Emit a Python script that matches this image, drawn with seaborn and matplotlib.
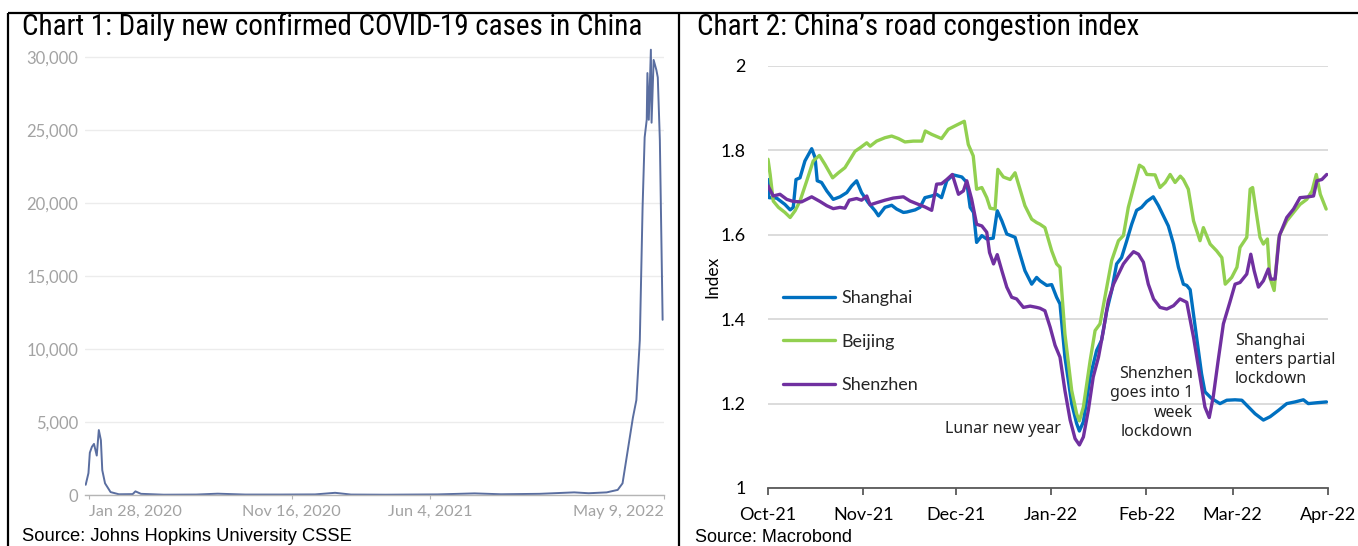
import numpy as np
import pandas as pd
import matplotlib
matplotlib.use("Agg")
import matplotlib.pyplot as plt
import matplotlib.dates as mdates
from matplotlib.lines import Line2D
from matplotlib.ticker import FuncFormatter
import seaborn as sns

# ---------------- Chart 1: daily new confirmed cases (7-day average) ----------------
covid_dates = [
    "2020-01-23", "2020-01-27", "2020-01-29", "2020-02-01", "2020-02-04", "2020-02-08",
    "2020-02-11", "2020-02-14", "2020-02-16", "2020-02-20", "2020-02-28", "2020-03-11",
    "2020-03-31", "2020-04-04", "2020-04-12", "2020-05-15", "2020-07-01", "2020-08-01",
    "2020-09-10", "2020-11-01", "2020-12-20", "2021-01-18", "2021-02-10", "2021-04-01",
    "2021-06-15", "2021-08-08", "2021-09-15", "2021-11-10", "2021-12-30", "2022-01-20",
    "2022-02-15", "2022-03-03", "2022-03-10", "2022-03-16", "2022-03-25", "2022-03-30",
    "2022-04-04", "2022-04-08", "2022-04-11", "2022-04-14", "2022-04-15", "2022-04-17",
    "2022-04-20", "2022-04-21", "2022-04-24", "2022-04-28", "2022-04-30", "2022-05-03",
    "2022-05-07",
]
covid_cases = [
    700, 1500, 2900, 3300, 3500, 2700,
    4450, 3750, 1700, 800, 200, 50,
    60, 250, 80, 20, 30, 90,
    30, 30, 40, 150, 30, 20,
    40, 110, 50, 80, 180, 120,
    180, 350, 800, 2600, 5300, 6500,
    10600, 19700, 24500, 25700, 28900, 25700,
    30500, 25500, 29800, 29100, 28600, 24300,
    12000,
]
covid_tick_dates = ["2020-01-28", "2020-11-16", "2021-06-04", "2022-05-09"]
covid_tick_labels = ["Jan 28, 2020", "Nov 16, 2020", "Jun 4, 2021", "May 9, 2022"]
covid_y_ticks = [0, 5000, 10000, 15000, 20000, 25000, 30000]

# ---------------- Chart 2: road congestion index ----------------
congestion_start = "2021-10-01"
cities = ["Shanghai", "Beijing", "Shenzhen"]
city_colors = ["#0070C0", "#92D050", "#7030A0"]

shanghai_days = [
    0, 0.3, 2.8, 5.5, 7.2, 8.2, 9.1, 10.4, 12, 14.2, 15.3, 16, 17.4, 19.1, 21.2, 23.4,
    25.6, 27.2, 28.8, 30.4, 32.6, 34.8, 35.9, 38, 40.2, 41.8, 44, 45.1, 47.8, 49.4, 51,
    53.2, 54.8, 56.4, 58.1, 60.2, 63, 64.6, 65.7, 66.8, 67.8, 69.5, 71.1, 73.2, 74.5, 76,
    77.6, 80.3, 81.9, 83.5, 85.7, 87.3, 88.4, 90.6, 92.2, 93.8, 94.9, 96.5, 98.7, 100.3,
    101.2, 102.5, 104.7, 106.8, 108.4, 110.1, 111.7, 113.3, 114.9, 116.6, 118.2, 119.8,
    121.4, 123.1, 125.2, 126.9, 128.5, 130.1, 131.8, 133.4, 135, 136.1, 137.2, 139.3,
    140.9, 142, 144.2, 146.9, 149.1, 151.8, 154, 155.6, 158.3, 161, 163.2, 165.9, 168.6,
    171.3, 174, 175.6, 178.3, 181.5,
]
shanghai_index = [
    1.731, 1.688, 1.687, 1.672, 1.659, 1.665, 1.731, 1.735, 1.775, 1.804, 1.783, 1.728,
    1.724, 1.704, 1.684, 1.690, 1.700, 1.716, 1.728, 1.700, 1.676, 1.657, 1.645, 1.665,
    1.670, 1.661, 1.653, 1.654, 1.659, 1.665, 1.688, 1.692, 1.696, 1.688, 1.728, 1.742,
    1.737, 1.724, 1.665, 1.653, 1.582, 1.598, 1.590, 1.592, 1.657, 1.633, 1.602, 1.594,
    1.554, 1.515, 1.483, 1.499, 1.491, 1.480, 1.482, 1.452, 1.436, 1.310, 1.200, 1.153,
    1.135, 1.157, 1.263, 1.326, 1.350, 1.420, 1.468, 1.531, 1.546, 1.586, 1.625, 1.658,
    1.665, 1.679, 1.690, 1.669, 1.645, 1.621, 1.578, 1.523, 1.483, 1.480, 1.470, 1.357,
    1.271, 1.228, 1.212, 1.200, 1.208, 1.209, 1.208, 1.196, 1.176, 1.161, 1.169, 1.184,
    1.200, 1.204, 1.209, 1.200, 1.202, 1.204,
]

beijing_days = [
    0, 0.7, 1.7, 3.4, 5.5, 7.2, 8.8, 10.4, 12.6, 14.7, 16.7, 18.5, 21, 22.9, 25, 26.7,
    28.3, 29.9, 32.1, 33.2, 35.3, 38, 40.2, 42.4, 44.5, 47.2, 50, 51.1, 53.2, 56.4, 58.6,
    61.3, 63.8, 65.1, 66.7, 67.8, 69.5, 71.1, 72.2, 73.8, 74.7, 76.5, 78.7, 80.3, 81.9,
    83.5, 85.7, 87.3, 88.4, 90, 92.2, 93.8, 94.9, 96.5, 98.7, 100.3, 101.2, 102.5, 104.7,
    106.3, 107.9, 110.1, 111.7, 113.9, 115.5, 117.1, 118.8, 120.7, 122, 123.1, 125.8,
    127.4, 129.1, 130.7, 132.3, 134, 135, 136.6, 138.3, 140.4, 141.5, 143.7, 145.8, 147.5,
    148.6, 150.7, 152.4, 153.4, 155.6, 156.7, 157.5, 158.6, 159.9, 161, 162.3, 163.1,
    164.5, 165.9, 166.4, 168.6, 170.8, 172.9, 175.1, 176.8, 178.2, 179.5, 181.4,
]
beijing_index = [
    1.779, 1.743, 1.680, 1.665, 1.653, 1.641, 1.657, 1.680, 1.728, 1.775, 1.788, 1.767,
    1.735, 1.747, 1.759, 1.779, 1.798, 1.806, 1.818, 1.810, 1.822, 1.830, 1.834, 1.828,
    1.820, 1.822, 1.822, 1.846, 1.838, 1.828, 1.850, 1.860, 1.869, 1.814, 1.787, 1.708,
    1.712, 1.688, 1.663, 1.661, 1.755, 1.737, 1.731, 1.747, 1.708, 1.669, 1.637, 1.629,
    1.625, 1.617, 1.562, 1.531, 1.523, 1.365, 1.231, 1.176, 1.159, 1.192, 1.302, 1.373,
    1.389, 1.476, 1.539, 1.586, 1.598, 1.665, 1.712, 1.765, 1.759, 1.743, 1.742, 1.712,
    1.724, 1.743, 1.724, 1.739, 1.731, 1.708, 1.633, 1.586, 1.617, 1.578, 1.562, 1.546,
    1.483, 1.499, 1.523, 1.570, 1.594, 1.708, 1.712, 1.657, 1.594, 1.578, 1.590, 1.499,
    1.468, 1.586, 1.602, 1.633, 1.653, 1.672, 1.684, 1.704, 1.743, 1.696, 1.661,
]

shenzhen_days = [
    0, 1.7, 3.9, 6.1, 8.2, 10.9, 14.2, 16.9, 19.1, 21.2, 23.4, 25, 26.4, 28.8, 30.4, 32.1,
    33.2, 35.3, 38, 40.7, 44, 46.2, 48.9, 51, 53.2, 54.8, 56.4, 58.1, 59.9, 61.9, 63.5,
    64.6, 66.2, 67.8, 69.5, 71.1, 72, 73.3, 74.5, 76, 77.6, 79.2, 80.8, 83, 85.2, 87.3,
    88.4, 90, 91.7, 93.3, 94.9, 96.5, 98.2, 99.8, 101.2, 102.5, 104.1, 105.7, 107.4, 109,
    110.6, 112.3, 113.9, 115.5, 117.1, 118.8, 120.4, 122, 123.6, 125.3, 127.4, 129.6,
    131.8, 133.9, 136.1, 138.3, 140.4, 142, 143.4, 144.7, 146.3, 148, 150.1, 151.8, 153.4,
    155.6, 156.9, 158, 159.4, 161, 162.6, 163.4, 164.8, 166.2, 168.6, 170.8, 172.9, 175.6,
    177.3, 178.4, 180, 181.6,
]
shenzhen_index = [
    1.716, 1.692, 1.696, 1.684, 1.679, 1.678, 1.690, 1.679, 1.669, 1.662, 1.665, 1.663,
    1.682, 1.686, 1.682, 1.692, 1.671, 1.676, 1.682, 1.687, 1.690, 1.680, 1.672, 1.666,
    1.658, 1.720, 1.721, 1.731, 1.743, 1.696, 1.704, 1.728, 1.684, 1.625, 1.621, 1.606,
    1.558, 1.531, 1.553, 1.515, 1.476, 1.452, 1.448, 1.428, 1.431, 1.428, 1.426, 1.420,
    1.381, 1.338, 1.310, 1.231, 1.161, 1.117, 1.102, 1.121, 1.184, 1.263, 1.310, 1.373,
    1.444, 1.483, 1.507, 1.531, 1.546, 1.560, 1.554, 1.535, 1.483, 1.448, 1.428, 1.424,
    1.432, 1.448, 1.440, 1.357, 1.263, 1.192, 1.167, 1.216, 1.302, 1.389, 1.440, 1.483,
    1.487, 1.507, 1.554, 1.515, 1.476, 1.491, 1.519, 1.495, 1.495, 1.598, 1.641, 1.661,
    1.688, 1.690, 1.692, 1.728, 1.731, 1.743,
]
congestion_y_ticks = [1.0, 1.2, 1.4, 1.6, 1.8, 2.0]

# ---------------- figure ----------------
W, H = 1358, 546
sns.set_theme(style="white")
plt.rcParams["font.family"] = ["Lato", "DejaVu Sans"]
fig = plt.figure(figsize=(W / 100, H / 100), dpi=100)
fig.patch.set_facecolor("white")


def fx(px):
    return px / W


def fy(py):
    return 1 - py / H


# panel frames
frame = dict(color="black", linewidth=1.6, solid_capstyle="butt")
fig.add_artist(Line2D([fx(8), fx(8)], [fy(13), 0], transform=fig.transFigure, **frame))
fig.add_artist(Line2D([fx(8), 1], [fy(13), fy(13)], transform=fig.transFigure, **frame))
fig.add_artist(Line2D([fx(679), fx(679)], [fy(13), 0], transform=fig.transFigure, **frame))

title_family = ["Roboto Condensed", "Liberation Sans Narrow", "Roboto", "DejaVu Sans"]
fig.text(fx(22), fy(27), "Chart 1: Daily new confirmed COVID-19 cases in China",
         ha="left", va="center", fontsize=21, family=title_family, color="black")
fig.text(fx(697), fy(27), "Chart 2: China\u2019s road congestion index",
         ha="left", va="center", fontsize=21, family=title_family, color="black")

src_family = ["Liberation Sans", "DejaVu Sans"]
fig.text(fx(22), fy(528), "Source: Johns Hopkins University CSSE", ha="left", va="top",
         fontsize=13.2, family=src_family, color="black")
fig.text(fx(695), fy(529), "Source: Macrobond", ha="left", va="top",
         fontsize=13.0, family=src_family, color="black")

# ---- chart 1 ----
x0_1, x1_1 = 85, 664
y0_1, ymax_1 = 495, 31000
px_per_case = 14.6 / 1000
top_1 = y0_1 - ymax_1 * px_per_case
ax1 = fig.add_axes([fx(x0_1), fy(y0_1), fx(x1_1) - fx(x0_1), (y0_1 - top_1) / H])
df1 = pd.DataFrame({"date": pd.to_datetime(covid_dates), "cases": covid_cases})
sns.lineplot(data=df1, x="date", y="cases", ax=ax1, color="#5a6ea0", linewidth=1.4)
ax1.set_xlim(pd.Timestamp("2020-01-22"), pd.Timestamp("2022-05-09"))
ax1.set_ylim(0, ymax_1)
ax1.set_yticks(covid_y_ticks)
ax1.yaxis.set_major_formatter(FuncFormatter(lambda v, p: f"{int(v):,}"))
ax1.set_xticks(pd.to_datetime(covid_tick_dates))
ax1.set_xticklabels(covid_tick_labels)
xt = ax1.get_xticklabels()
xt[0].set_ha("left")
xt[-1].set_ha("right")
ax1.grid(axis="y", color="#ececec", linewidth=1)
ax1.grid(axis="x", visible=False)
for s in ["top", "right", "left"]:
    ax1.spines[s].set_visible(False)
ax1.spines["bottom"].set_color("#b5b5b5")
ax1.spines["bottom"].set_linewidth(1)
ax1.tick_params(axis="y", length=0, pad=5, labelsize=12, labelcolor="#a3a3a3")
ax1.tick_params(axis="x", length=3, width=0.8, color="#b5b5b5", pad=4,
                labelsize=11.7, labelcolor="#a3a3a3", direction="out", bottom=True)
ax1.set_xlabel("")
ax1.set_ylabel("")
ax1.set_facecolor("white")

# ---- chart 2 ----
x0_2, x1_2 = 768, 1328
ax2 = fig.add_axes([fx(x0_2), fy(488), fx(x1_2) - fx(x0_2), (488 - 66) / H])
start = pd.Timestamp(congestion_start)
frames = []
for name, d, v in [("Shanghai", shanghai_days, shanghai_index),
                   ("Beijing", beijing_days, beijing_index),
                   ("Shenzhen", shenzhen_days, shenzhen_index)]:
    frames.append(pd.DataFrame({"date": start + pd.to_timedelta(d, unit="D"),
                                "Index": v, "City": name}))
df2 = pd.concat(frames, ignore_index=True)
sns.lineplot(data=df2, x="date", y="Index", hue="City", hue_order=cities,
             palette=dict(zip(cities, city_colors)), linewidth=2.4,
             estimator=None, ax=ax2, legend=False)
ax2.set_xlim(pd.Timestamp("2021-10-01"), pd.Timestamp("2022-04-01"))
ax2.set_ylim(1, 2)
ax2.set_yticks(congestion_y_ticks)
ax2.yaxis.set_major_formatter(FuncFormatter(lambda v, p: f"{v:g}"))
ax2.xaxis.set_major_locator(mdates.MonthLocator())
ax2.xaxis.set_major_formatter(mdates.DateFormatter("%b-%y"))
ax2.grid(axis="y", color="#d9d9d9", linewidth=1.3)
ax2.grid(axis="x", visible=False)
for s in ["top", "right", "left"]:
    ax2.spines[s].set_visible(False)
ax2.spines["bottom"].set_color("#595959")
ax2.spines["bottom"].set_linewidth(1.3)
ax2.tick_params(axis="y", length=0, pad=16, labelsize=13, labelcolor="black")
ax2.tick_params(axis="x", length=5, width=1.3, color="#595959", pad=9,
                labelsize=13, labelcolor="black", direction="out", bottom=True)
ax2.set_xlabel("")
ax2.set_ylabel("Index", fontsize=12.5, color="black")
ax2.yaxis.set_label_coords(-(x0_2 - 720) / (x1_2 - x0_2), 0.5)

leg = ax2.legend(handles=ax2.get_lines()[:3], labels=cities, loc="upper left",
                 bbox_to_anchor=((783 - x0_2) / (x1_2 - x0_2), (488 - 290) / 422),
                 frameon=False, fontsize=13, handlelength=2.9, handletextpad=0.35,
                 labelspacing=1.53, borderpad=0, borderaxespad=0)

note_family = ["Noto Sans", "DejaVu Sans"]


def ax2_pt(px, py):
    return ((px - x0_2) / (x1_2 - x0_2), (488 - py) / 422)


ax2.text(*ax2_pt(1061, 429), "Lunar new year", transform=ax2.transAxes,
         ha="right", va="center", fontsize=11.5, family=note_family, color="#222222")
ax2.text(*ax2_pt(1193, 403), "Shenzhen\ngoes into 1\nweek\nlockdown",
         transform=ax2.transAxes, ha="right", va="center", multialignment="right",
         fontsize=11.5, family=note_family, color="#222222", linespacing=1.27)
ax2.text(*ax2_pt(1235, 360), "Shanghai\nenters partial\nlockdown",
         transform=ax2.transAxes, ha="left", va="center", multialignment="left",
         fontsize=11.5, family=note_family, color="#222222", linespacing=1.27)

fig.savefig("out.png", dpi=100, facecolor="white")
